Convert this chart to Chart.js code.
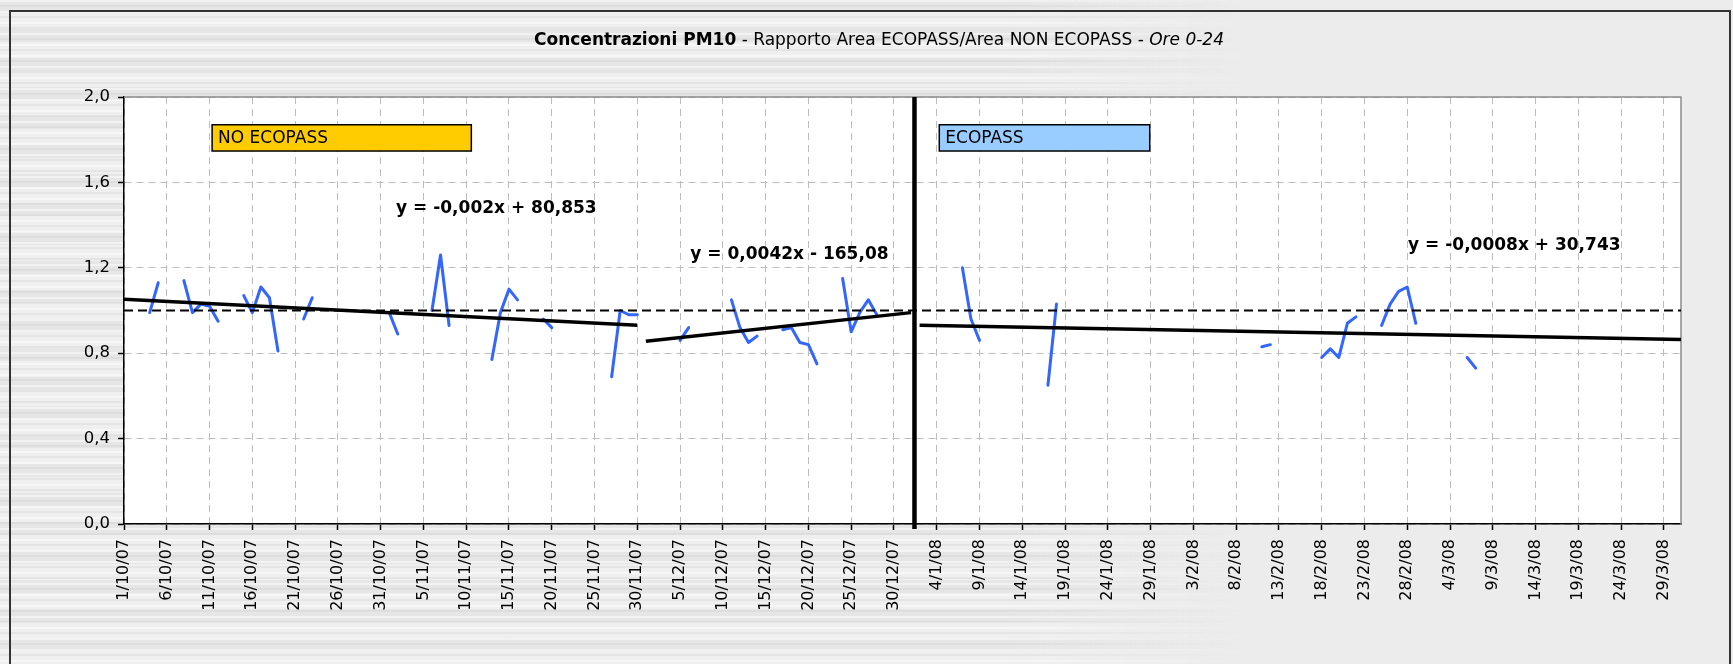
<!DOCTYPE html>
<html lang="it">
<head>
<meta charset="utf-8">
<title>Concentrazioni PM10 - Rapporto Area ECOPASS/Area NON ECOPASS</title>
<script src="https://cdn.jsdelivr.net/npm/chart.js@4.4.1/dist/chart.umd.min.js"></script>
<style>
  html, body { margin: 0; padding: 0; }
  body { width: 1733px; height: 664px; background: #ececec; position: relative; overflow: hidden; }
  #texture {
    position: absolute; left: 0; top: 0; width: 1733px; height: 664px;
    background:
      repeating-linear-gradient(180deg, rgba(255,255,255,0.45) 0 2px, rgba(255,255,255,0) 2px 5px, rgba(190,190,190,0.22) 5px 7px, rgba(255,255,255,0) 7px 11px),
      repeating-linear-gradient(180deg, rgba(210,210,210,0.2) 0 13px, rgba(255,255,255,0.2) 13px 29px);
    -webkit-mask-image: linear-gradient(90deg, #000 0, #000 58%, transparent 72%);
    mask-image: linear-gradient(90deg, #000 0, #000 58%, transparent 72%);
  }
  #wrap { position: absolute; left: 0; top: 0; width: 1733px; height: 664px; }
</style>
</head>
<body>
<div id="texture"></div>
<div id="wrap"><canvas id="pm10Chart"></canvas></div>
<script>
// x values are days counted from 1/10/2007
const obsDays = [
  3, 4,
  7, 8, 9, 10, 11,
  14, 15, 16, 17, 18,
  21, 22,
  31, 32,
  36, 37, 38,
  43, 44, 45, 46,
  49, 50,
  57, 58, 59, 60,
  65, 66,
  71, 72, 73, 74,
  77, 78, 79, 80, 81,
  84, 85, 86, 87, 88,
  98, 99, 100,
  108, 109,
  133, 134,
  140, 141, 142, 143, 144,
  147, 148, 149, 150, 151,
  157, 158
];
const obsRatio = [
  0.99, 1.13,
  1.14, 0.99, 1.03, 1.02, 0.95,
  1.07, 0.99, 1.11, 1.06, 0.81,
  0.96, 1.06,
  0.99, 0.89,
  1.00, 1.26, 0.93,
  0.77, 0.99, 1.10, 1.05,
  0.96, 0.92,
  0.69, 1.00, 0.98, 0.98,
  0.86, 0.92,
  1.05, 0.92, 0.85, 0.88,
  0.91, 0.92, 0.85, 0.84, 0.75,
  1.15, 0.90, 0.99, 1.05, 0.98,
  1.20, 0.96, 0.86,
  0.65, 1.03,
  0.83, 0.84,
  0.78, 0.82, 0.78, 0.94, 0.97,
  0.93, 1.03, 1.09, 1.11, 0.94,
  0.78, 0.73
];

// linear trends: [first day, last day] and fitted values at those days
const trendBeforeDays = [0, 60];
const trendBeforeVals = [1.053, 0.931];
const trendDecDays = [61, 92];
const trendDecVals = [0.856, 0.990];
const trendEcoDays = [93, 182];
const trendEcoVals = [0.931, 0.864];

const refLevel = 1.0;
const ecopassStart = 92.4;
const lastDay = 182;

const tickEvery = 5;
const xTickLabels = [
  '1/10/07', '6/10/07', '11/10/07', '16/10/07', '21/10/07', '26/10/07', '31/10/07',
  '5/11/07', '10/11/07', '15/11/07', '20/11/07', '25/11/07', '30/11/07',
  '5/12/07', '10/12/07', '15/12/07', '20/12/07', '25/12/07', '30/12/07',
  '4/1/08', '9/1/08', '14/1/08', '19/1/08', '24/1/08', '29/1/08',
  '3/2/08', '8/2/08', '13/2/08', '18/2/08', '23/2/08', '28/2/08',
  '4/3/08', '9/3/08', '14/3/08', '19/3/08', '24/3/08', '29/3/08'
];
const yStep = 0.4;
const yTickLabels = ['0,0', '0,4', '0,8', '1,2', '1,6', '2,0'];

const periodBoxes = [
  { text: 'NO ECOPASS', fill: '#FFCC00', x0: 10.3, x1: 40.6, y0: 1.870, y1: 1.747 },
  { text: 'ECOPASS', fill: '#99CCFF', x0: 95.3, x1: 119.9, y0: 1.870, y1: 1.747 }
];
const equations = [
  { text: 'y = -0,002x + 80,853', x: 31.8, y: 1.479 },
  { text: 'y = 0,0042x - 165,08', x: 66.2, y: 1.263 },
  { text: 'y = -0,0008x + 30,743', x: 150.1, y: 1.306 }
];

const FONT = '"DejaVu Sans", Verdana, sans-serif';
Chart.defaults.font.family = FONT;
Chart.defaults.color = '#000';

// break the line wherever a day is missing
const bluePoints = [];
obsDays.forEach((d, i) => {
  if (i > 0 && d - obsDays[i - 1] > 1) bluePoints.push({ x: d - 0.5, y: null });
  bluePoints.push({ x: d, y: obsRatio[i] });
});

const pair = (days, vals) => days.map((d, i) => ({ x: d, y: vals[i] }));

const trendStyle = {
  borderColor: '#000',
  borderWidth: 3.5,
  pointRadius: 0,
  fill: false,
  order: 2
};

const decor = {
  id: 'decor',
  beforeDraw(chart) {
    const { ctx, chartArea: a } = chart;
    ctx.save();
    ctx.fillStyle = '#ffffff';
    ctx.fillRect(a.left, a.top, a.right - a.left, a.bottom - a.top);

    ctx.strokeStyle = '#333';
    ctx.lineWidth = 2;
    ctx.strokeRect(10, 11, 1720, 700);

    // title in three styles
    const parts = [
      { t: 'Concentrazioni PM10', f: 'bold 17px ' + FONT },
      { t: ' - Rapporto Area ECOPASS/Area NON ECOPASS - ', f: '17px ' + FONT },
      { t: 'Ore 0-24', f: 'italic 17px ' + FONT }
    ];
    let total = 0;
    parts.forEach(p => { ctx.font = p.f; p.w = ctx.measureText(p.t).width; total += p.w; });
    let x = 879 - total / 2;
    ctx.fillStyle = '#000';
    ctx.textBaseline = 'middle';
    ctx.textAlign = 'left';
    parts.forEach(p => { ctx.font = p.f; ctx.fillText(p.t, x, 41); x += p.w; });
    ctx.restore();
  },
  beforeDatasetsDraw(chart) {
    const { ctx, chartArea: a } = chart;
    ctx.save();
    ctx.strokeStyle = '#8c8c8c';
    ctx.lineWidth = 1.5;
    ctx.beginPath();
    ctx.moveTo(a.left, a.top);
    ctx.lineTo(a.right, a.top);
    ctx.lineTo(a.right, a.bottom);
    ctx.stroke();
    ctx.restore();
  },
  afterDatasetsDraw(chart) {
    const { ctx, chartArea: a, scales: { x, y } } = chart;
    ctx.save();
    // start of the ECOPASS period
    const sx = x.getPixelForValue(ecopassStart);
    ctx.strokeStyle = '#000';
    ctx.lineWidth = 4.5;
    ctx.beginPath();
    ctx.moveTo(sx, a.top);
    ctx.lineTo(sx, a.bottom + 5);
    ctx.stroke();

    periodBoxes.forEach(b => {
      const l = x.getPixelForValue(b.x0), r = x.getPixelForValue(b.x1);
      const t = y.getPixelForValue(b.y0), btm = y.getPixelForValue(b.y1);
      ctx.fillStyle = b.fill;
      ctx.fillRect(l, t, r - l, btm - t);
      ctx.strokeStyle = '#000';
      ctx.lineWidth = 1.5;
      ctx.strokeRect(l, t, r - l, btm - t);
      ctx.fillStyle = '#000';
      ctx.font = '17px ' + FONT;
      ctx.textAlign = 'left';
      ctx.textBaseline = 'middle';
      ctx.fillText(b.text, l + 6, (t + btm) / 2 + 1);
    });

    ctx.font = 'bold 17px ' + FONT;
    ctx.fillStyle = '#000';
    ctx.textAlign = 'left';
    ctx.textBaseline = 'middle';
    equations.forEach(e => {
      ctx.fillText(e.text, x.getPixelForValue(e.x), y.getPixelForValue(e.y));
    });
    ctx.restore();
  }
};

new Chart(document.getElementById('pm10Chart'), {
  type: 'line',
  data: {
    datasets: [
      {
        label: 'Rif. 1,0',
        data: [{ x: 0, y: refLevel }, { x: lastDay, y: refLevel }],
        borderColor: '#000',
        borderWidth: 2,
        borderDash: [9, 5],
        pointRadius: 0,
        order: 1
      },
      Object.assign({ label: 'Trend NO ECOPASS', data: pair(trendBeforeDays, trendBeforeVals) }, trendStyle),
      Object.assign({ label: 'Trend dicembre', data: pair(trendDecDays, trendDecVals) }, trendStyle),
      Object.assign({ label: 'Trend ECOPASS', data: pair(trendEcoDays, trendEcoVals) }, trendStyle),
      {
        label: 'Rapporto ECOPASS/NON ECOPASS',
        data: bluePoints,
        borderColor: '#3366FF',
        borderWidth: 3,
        borderCapStyle: 'round',
        borderJoinStyle: 'round',
        pointRadius: 0,
        spanGaps: false,
        tension: 0,
        order: 3
      }
    ]
  },
  options: {
    responsive: true,
    maintainAspectRatio: false,
    animation: false,
    events: [],
    layout: { padding: { top: 97, right: 52, left: 0, bottom: 0 } },
    plugins: {
      legend: { display: false },
      title: { display: false },
      tooltip: { enabled: false }
    },
    scales: {
      x: {
        type: 'linear',
        min: 0,
        max: lastDay,
        afterBuildTicks: s => { s.ticks = xTickLabels.map((_, i) => ({ value: i * tickEvery })); },
        afterFit: s => { s.height = 140; },
        ticks: {
          autoSkip: false,
          minRotation: 90,
          maxRotation: 90,
          padding: 9,
          color: '#000',
          font: { size: 16 },
          callback: v => xTickLabels[Math.round(v / tickEvery)]
        },
        grid: { color: '#bdbdbd', lineWidth: 1, tickColor: '#000', tickLength: 6, tickWidth: 1.5 },
        border: { color: '#000', width: 1.5, dash: [7, 5] }
      },
      y: {
        type: 'linear',
        min: 0,
        max: 2,
        afterBuildTicks: s => { s.ticks = yTickLabels.map((_, i) => ({ value: i * yStep })); },
        afterFit: s => { s.width = 124; },
        ticks: {
          padding: 8,
          color: '#000',
          font: { size: 16.5 },
          callback: v => yTickLabels[Math.round(v / yStep)]
        },
        grid: { color: '#bdbdbd', lineWidth: 1, tickColor: '#000', tickLength: 6, tickWidth: 1.5 },
        border: { color: '#000', width: 1.5, dash: [7, 5] }
      }
    }
  },
  plugins: [decor]
});
</script>
</body>
</html>
